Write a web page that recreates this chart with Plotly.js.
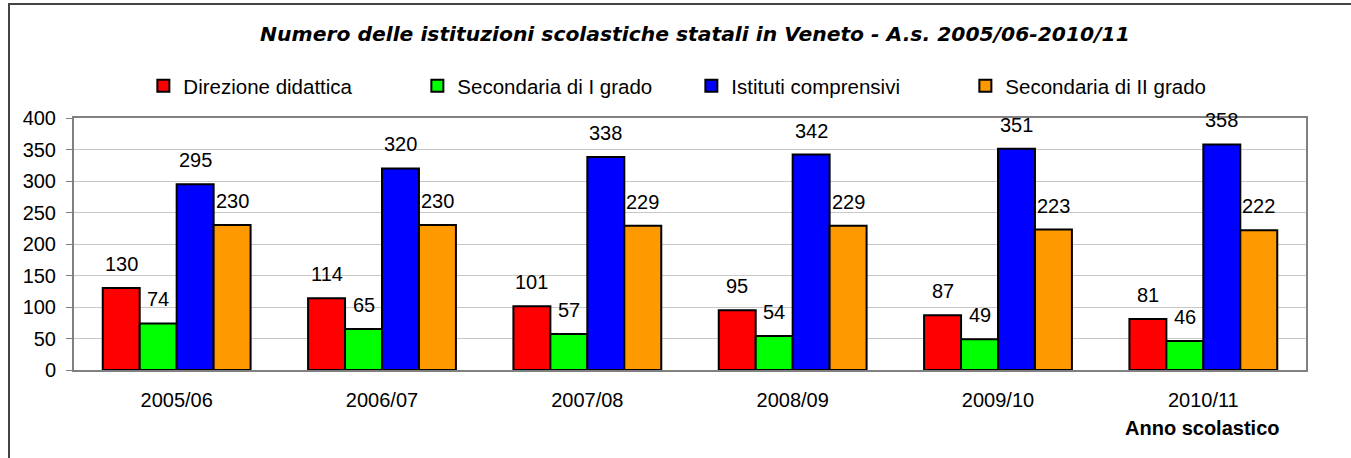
<!DOCTYPE html>
<html>
<head>
<meta charset="utf-8">
<script src="https://cdn.plot.ly/plotly-3.0.1.min.js"></script>
<style>html,body{margin:0;padding:0;background:#fff;}#chart{width:1351px;height:458px;}</style>
</head>
<body>
<div id="chart"></div>
<script>
const years = ["2005/06", "2006/07", "2007/08", "2008/09", "2009/10", "2010/11"];
const seriesNames = ["Direzione didattica", "Secondaria di I grado", "Istituti comprensivi", "Secondaria di II grado"];
const direzioneDidattica = [130, 114, 101, 95, 87, 81];
const secondariaIGrado = [74, 65, 57, 54, 49, 46];
const istitutiComprensivi = [295, 320, 338, 342, 351, 358];
const secondariaIIGrado = [230, 230, 229, 229, 223, 222];
const seriesColors = ["#FF0000", "#00FF00", "#0000FF", "#FF9900"];
const titleText = "Numero delle istituzioni scolastiche statali in Veneto - A.s. 2005/06-2010/11";
const xTitleText = "Anno scolastico";

const allSeries = [direzioneDidattica, secondariaIGrado, istitutiComprensivi, secondariaIIGrado];
const FONT = "Liberation Sans, Arial, sans-serif";
const TITLE_FONT = "DejaVu Sans, Liberation Sans, Arial, sans-serif";
const W = 1351, H = 458;
const margin = {l: 74, r: 45, t: 118, b: 88};
const bargap = 0.28;
const plotW = W - margin.l - margin.r;
const barPx = plotW / years.length * (1 - bargap) / allSeries.length;

const traces = allSeries.map((vals, i) => ({
  type: "bar",
  name: seriesNames[i],
  x: years,
  y: vals,
  marker: {color: seriesColors[i], line: {color: "#000000", width: 2}},
  hoverinfo: "x+y+name"
}));

const annotations = [];
allSeries.forEach((vals, i) => {
  vals.forEach((v, j) => {
    annotations.push({
      x: years[j], y: v, xref: "x", yref: "y",
      text: String(v), showarrow: false,
      xanchor: "center", yanchor: "middle",
      xshift: (i - (allSeries.length - 1) / 2) * barPx,
      yshift: 24,
      font: {family: FONT, size: 20, color: "#000"}
    });
  });
});
annotations.push({
  text: "<b>" + xTitleText + "</b>", showarrow: false,
  xref: "paper", yref: "paper", x: 0.9156, y: -0.23,
  xanchor: "center", yanchor: "middle",
  font: {family: FONT, size: 20, color: "#000"}
});

const layout = {
  width: W, height: H,
  margin: margin,
  paper_bgcolor: "#ffffff",
  plot_bgcolor: "#ffffff",
  barmode: "group",
  bargap: bargap,
  bargroupgap: 0,
  font: {family: FONT, size: 20, color: "#000"},
  title: {
    text: "<b><i>" + titleText + "</i></b>",
    xref: "container", x: 0.5144, xanchor: "center",
    yref: "container", y: 1 - 34 / H, yanchor: "middle",
    font: {family: TITLE_FONT, size: 20.3, color: "#000"}
  },
  showlegend: true,
  legend: {
    orientation: "h",
    x: 0.0563, xanchor: "left",
    y: 1.127, yanchor: "middle",
    entrywidth: 229, entrywidthmode: "pixels",
    font: {family: FONT, size: 20.5, color: "#000"},
    bgcolor: "rgba(0,0,0,0)", borderwidth: 0,
    traceorder: "normal"
  },
  xaxis: {
    type: "category",
    showline: true, linecolor: "#808080", linewidth: 2, mirror: true,
    ticks: "", showgrid: false, zeroline: false,
    tickfont: {family: FONT, size: 20, color: "#000"},
    ticklabelstandoff: 11,
    fixedrange: true
  },
  yaxis: {
    range: [0, 400], dtick: 50, tick0: 0,
    showline: true, linecolor: "#808080", linewidth: 2, mirror: true,
    ticks: "outside", ticklen: 6, tickcolor: "#808080", tickwidth: 1,
    showgrid: true, gridcolor: "#c8c8c8", gridwidth: 1,
    zeroline: false,
    tickfont: {family: FONT, size: 20, color: "#000"},
    ticklabelstandoff: 6,
    fixedrange: true
  },
  annotations: annotations,
  shapes: [{
    type: "rect", xref: "paper", yref: "paper",
    x0: (9 - margin.l) / plotW, x1: 1.2,
    y0: -0.6, y1: (H - margin.b - 4) / (H - margin.t - margin.b),
    line: {color: "#444444", width: 2}, fillcolor: "rgba(0,0,0,0)", layer: "below"
  }]
};

Plotly.newPlot("chart", traces, layout, {displayModeBar: false, staticPlot: true});
</script>
</body>
</html>
